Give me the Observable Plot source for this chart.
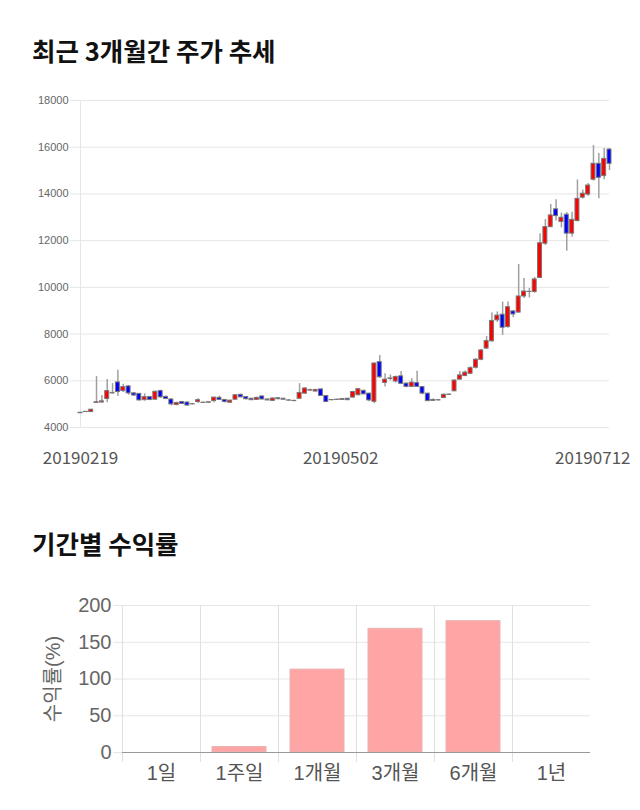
<!DOCTYPE html>
<html><head><meta charset="utf-8">
<script src="https://cdn.jsdelivr.net/npm/d3@7"></script>
<script src="https://cdn.jsdelivr.net/npm/@observablehq/plot@0.6"></script>
<style>
body{margin:0;background:#fff;width:640px;height:810px;overflow:hidden;position:relative;font-family:"Noto Sans CJK KR",sans-serif;}
.title{position:absolute;left:32px;font-size:25.5px;line-height:1;font-weight:700;color:#111;white-space:nowrap;}
#c1{position:absolute;left:0;top:80px;}
#c2{position:absolute;left:0;top:585px;}
</style></head><body>
<div class="title" style="top:37px">최근 3개월간 주가 추세</div>
<div id="c1"></div>
<div class="title" style="top:530px">기간별 수익률</div>
<div id="c2"></div>
<script>
// trading days (tick labels come from these)
const feb = ["20190219","20190220","20190221","20190222","20190225","20190226","20190227","20190228"];
const mar = ["20190304","20190305","20190306","20190307","20190308","20190311","20190312","20190313","20190314","20190315","20190318","20190319","20190320","20190321","20190322","20190325","20190326","20190327","20190328","20190329"];
const apr = ["20190401","20190402","20190403","20190404","20190405","20190408","20190409","20190410","20190411","20190412","20190415","20190416","20190417","20190418","20190419","20190422","20190423","20190424","20190425","20190426","20190429","20190430"];
const may = ["20190502","20190503","20190507","20190508","20190509","20190510","20190513","20190514","20190515","20190516","20190517","20190520","20190521","20190522","20190523","20190524","20190527","20190528","20190529","20190530","20190531"];
const jun = ["20190603","20190604","20190605","20190607","20190610","20190611","20190612","20190613","20190614","20190617","20190618","20190619","20190620","20190621","20190624","20190625","20190626","20190627","20190628"];
const jul = ["20190701","20190702","20190703","20190704","20190705","20190708","20190709","20190710","20190711","20190712"];
const dates = [...feb, ...mar, ...apr, ...may, ...jun, ...jul];

const openP = [4610,4660,4660,5050,5070,5220,5460,5930,5560,5760, 5460,5440,5170,5300,5190,5560,5310,5200,4960,5090,
  5070,4990,5090,5050,5060,5130,5270,5180,5060,5190, 5400,5300,5230,5180,5330,5200,5140,5250,5230,5150,
  5130,5230,5450,5580,5540,5630,5350,5170,5180,5180, 5230,5280,5380,5570,5450,5100,6800,5910,6080,5970,
  6190,5880,5740,5900,5730,5450,5140,5160,5260,5400, 5550,6050,6200,6300,6560,6900,7380,7690,8590,8830,
  8300,8970,8920,9610,9800,9800,10400,11870,12580,13340, 12800,13110,12300,12840,13840,13970,14610,15290,14760,15900];
const closeP = [4630,4670,4760,5080,5120,5560,5480,5520,5730,5460, 5370,5160,5300,5180,5530,5290,5220,4990,5050,5010,
  4940,5000,5170,5060,5080,5280,5180,5090,5150,5380, 5290,5210,5170,5270,5200,5160,5240,5210,5190,5160,
  5140,5480,5670,5600,5610,5350,5090,5180,5190,5220, 5170,5520,5640,5420,5160,6740,6150,6050,6100,6160,
  5870,5740,5920,5740,5450,5130,5180,5170,5400,5410, 6010,6230,6350,6540,6900,7300,7700,8560,8790,8270,
  9150,8840,9610,9820,9810,10340,11890,12580,13080,13050, 12980,12300,12890,13790,14010,14360,15290,14690,15500,15290];
const highP = [4650,4680,4780,6180,5370,6050,5880,6450,5850,5800, 5500,5450,5450,5330,5560,5600,5350,5230,5080,5110,
  5090,5020,5230,5090,5100,5290,5340,5200,5170,5400, 5420,5310,5250,5300,5340,5220,5260,5270,5250,5200,
  5170,5880,5700,5640,5630,5650,5360,5200,5220,5240, 5250,5550,5660,5600,5470,6760,7080,6300,6250,6200,
  6400,5900,6090,6410,5760,5470,5220,5200,5440,5430, 6050,6400,6420,6600,6950,7350,7900,8900,8950,9370,
  9370,9000,10980,10380,9950,10420,12300,12900,13550,13750, 13180,13200,13220,14600,14170,14450,16070,15730,15950,15950];
const lowP = [4600,4650,4650,5030,5040,5060,5430,5330,5500,5380, 5330,5130,5130,5150,5170,5250,5190,4920,4930,4990,
  4920,4970,5030,5030,5040,5060,5160,5050,5050,5170, 5270,5180,5150,5160,5180,5140,5120,5190,5170,5120,
  5100,5200,5420,5550,5520,5330,5070,5140,5160,5160, 5150,5260,5360,5400,5100,5020,6100,5730,6000,5900,
  5850,5700,5720,5720,5400,5100,5120,5130,5240,5380, 5530,6020,6180,6280,6500,6860,7350,7650,8500,7940,
  8250,8700,8900,9520,9550,9750,10380,11790,12550,12840, 12550,11550,12150,12800,13780,13900,14550,13790,14610,15000];

const priceTicks = [4000,6000,8000,10000,12000,14000,16000,18000];
const tickDates = ["20190219","20190502","20190712"];

const periods = ["1일","1주일","1개월","3개월","6개월","1년"];
const returns = [0, 7.5, 112.8, 168.3, 178.7, null];
const returnTicks = [0,50,100,150,200];

const candles = dates.map((d,i)=>({i, date:d, open:openP[i], close:closeP[i], high:highP[i], low:lowP[i]}));
const tickIdx = tickDates.map(d=>dates.indexOf(d));

const dateAxis = {tickSize: 0, tickPadding: 24, tickFormat: i=>dates[i], fontSize: 17, fontFamily: "'Noto Sans CJK KR', sans-serif", fill: "#555", label: null};
const p1 = Plot.plot({
  width: 640, height: 400,
  marginTop: 20, marginBottom: 53, marginLeft: 80, marginRight: 31,
  style: {fontFamily: "'Liberation Sans', 'Noto Sans CJK KR', sans-serif", fontSize: "11px", color: "#666", background: "#fff"},
  x: {domain: [0, dates.length-1]},
  y: {domain: [4000, 18000]},
  color: {type: "identity"},
  marks: [
    Plot.gridY(priceTicks, {stroke: "#e6e6e6", strokeOpacity: 1}),
    Plot.ruleX([0], {stroke: "#e6e6e6"}),
    Plot.axisY({ticks: priceTicks, tickSize: 10, tickPadding: 2, stroke: "#e6e6e6", tickFormat: d=>String(d), label: null}),
    Plot.axisX({...dateAxis, ticks: tickIdx.slice(0,1)}),
    Plot.axisX({...dateAxis, ticks: tickIdx.slice(1,2), dx: -7}),
    Plot.axisX({...dateAxis, ticks: tickIdx.slice(2), textAnchor: "end", dx: 21}),
    Plot.ruleX(candles, {x: "i", y1: "low", y2: "high", stroke: "#a0a0a0", strokeWidth: 1.5}),
    Plot.rect(candles, {x1: d=>d.i-0.37, x2: d=>d.i+0.37, y1: "open", y2: "close",
      fill: d=>d.close>=d.open ? "#ff0000" : "#0000ff", stroke: "#777", strokeWidth: 1})
  ]
});
document.getElementById("c1").append(p1);

const bars = periods.map((p,i)=>({period:p, value:returns[i]}));
const p2 = Plot.plot({
  width: 640, height: 215,
  marginTop: 20, marginBottom: 48, marginLeft: 122, marginRight: 50,
  style: {fontFamily: "'Liberation Sans', 'Noto Sans CJK KR', sans-serif", fontSize: "20px", color: "#666", background: "#fff"},
  x: {type: "band", domain: periods, padding: 0},
  y: {domain: [0, 200]},
  marks: [
    Plot.gridY(returnTicks.slice(1), {stroke: "#e6e6e6", strokeOpacity: 1}),
    Plot.ruleX(periods, {dx: -39, insetBottom: -10, stroke: "#e0e0e0"}),
    Plot.barY(bars.filter(d=>d.value!=null && d.value>0), {x: "period", y: "value", fill: "#ffa5a5", stroke: "#e8b4b4", strokeWidth: 1, insetLeft: 12, insetRight: 12}),
    Plot.ruleY([0], {stroke: "#999", insetLeft: -9}),
    Plot.axisY({ticks: returnTicks, tickSize: 9, tickPadding: 2, stroke: "#e6e6e6", label: "수익률(%)", labelArrow: "none", labelAnchor: "center", labelOffset: 77, fontSize: 20}),
    Plot.axisX({tickSize: 0, tickPadding: 13, fill: "#555", label: null})
  ]
});
document.getElementById("c2").append(p2);
</script>
</body></html>
